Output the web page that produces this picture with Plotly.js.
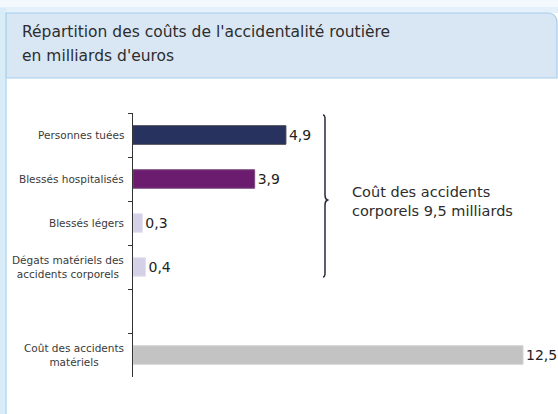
<!DOCTYPE html>
<html>
<head>
<meta charset="utf-8">
<script src="https://cdn.plot.ly/plotly-3.0.1.min.js"></script>
<style>html,body{margin:0;padding:0;background:#fff;}#chart{width:558px;height:414px;}</style>
</head>
<body>
<div id="chart"></div>
<script>
// ---- data ----
var categories = ["Personnes tuées", "Blessés hospitalisés", "Blessés légers", "Dégats matériels des accidents corporels", "Coût des accidents matériels"];
var categoryLabels = ["Personnes tuées", "Blessés hospitalisés", "Blessés légers", "Dégats matériels des<br>accidents corporels", "Coût des accidents<br>matériels"];
var values = [4.9, 3.9, 0.3, 0.4, 12.5];
var axisOrder = ["Personnes tuées", "Blessés hospitalisés", "Blessés légers", "Dégats matériels des accidents corporels", " ", "Coût des accidents matériels"];
var titleLines = ["Répartition des coûts de l'accidentalité routière", "en milliards d'euros"];
var bracketNote = "Coût des accidents<br>corporels 9,5 milliards";

// ---- styles ----
var barColors = ["#27325f", "#6c1c6f", "#d4d0e7", "#d4d0e7", "#c3c3c3"];
var barLines = ["#3a3a48", "#7a4a7e", "#e2e0ee", "#e2e0ee", "#d2d2d2"];
var FONT = "DejaVu Sans, Liberation Sans, Arial, sans-serif";

var W = 558, H = 414, L = 133, R = 2, T = 113, B = 37;
var pw = W - L - R, ph = H - T - B;
function PX(x) { return (x - L) / pw; }
function PY(y) { return (H - B - y) / ph; }
function P(x, y) { return PX(x).toFixed(5) + "," + PY(y).toFixed(5); }

var trace = {
  type: "bar",
  orientation: "h",
  y: categories,
  x: values,
  width: 0.42,
  marker: { color: barColors, line: { color: barLines, width: 1 } },
  text: values.map(function (v) { return String(v).replace(".", ","); }),
  textposition: "outside",
  textfont: { family: FONT, size: 14, color: "#222" },
  constraintext: "none",
  cliponaxis: false,
  hoverinfo: "none"
};

var annotations = [];
categoryLabels.forEach(function (lab, i) {
  annotations.push({
    xref: "paper", yref: "y", x: PX(126), y: axisOrder.indexOf(categories[i]),
    xanchor: "right", yanchor: "middle", align: "center", showarrow: false,
    text: lab, font: { family: FONT, size: 10.5, color: "#3a3a3a" }
  });
});
annotations.push({
  xref: "paper", yref: "paper", x: PX(20), y: PY(32), xanchor: "left", yanchor: "middle",
  showarrow: false, text: titleLines[0], font: { family: FONT, size: 15.5, color: "#2d2d2d" }
});
annotations.push({
  xref: "paper", yref: "paper", x: PX(20), y: PY(56), xanchor: "left", yanchor: "middle",
  showarrow: false, text: titleLines[1], font: { family: FONT, size: 15.5, color: "#2d2d2d" }
});
annotations.push({
  xref: "paper", yref: "paper", x: PX(350), y: PY(201.5), xanchor: "left", yanchor: "middle",
  align: "left", showarrow: false, text: bracketNote, font: { family: FONT, size: 14.5, color: "#2d2d2d" }
});

var shapes = [
  // top glow
  { type: "rect", xref: "paper", yref: "paper", x0: PX(0), x1: PX(558), y0: PY(0), y1: PY(7), fillcolor: "#f4f9fd", line: { width: 0 }, layer: "below" },
  { type: "rect", xref: "paper", yref: "paper", x0: PX(0), x1: PX(558), y0: PY(7), y1: PY(13), fillcolor: "#e4f0fa", line: { width: 0 }, layer: "below" },
  // left glow
  { type: "rect", xref: "paper", yref: "paper", x0: PX(0), x1: PX(6), y0: PY(8), y1: PY(414), fillcolor: "#d9edf9", line: { width: 0 }, layer: "below" },
  // title box
  { type: "path", xref: "paper", yref: "paper", layer: "below",
    path: "M" + P(6, 13) + " L" + P(547, 13) + " Q" + P(557, 13) + " " + P(557, 23) + " L" + P(557, 78) + " L" + P(6, 78) + " Z",
    fillcolor: "#d9e7f5", line: { color: "#a6cdeb", width: 1.2 } },
  // left border below box
  { type: "line", xref: "paper", yref: "paper", x0: PX(6), x1: PX(6), y0: PY(78), y1: PY(414), line: { color: "#b5daf2", width: 1.5 }, layer: "below" },
  // brace
  { type: "path", xref: "paper", yref: "paper",
    path: "M" + P(323, 115) + " Q" + P(325, 115) + " " + P(325, 119) + " L" + P(325, 195) + " Q" + P(325, 199) + " " + P(327.5, 200) +
          " Q" + P(325, 201) + " " + P(325, 205) + " L" + P(325, 273) + " Q" + P(325, 277) + " " + P(323, 277),
    line: { color: "#2a2a3c", width: 1.5 } }
];

var layout = {
  width: W, height: H,
  margin: { l: L, r: R, t: T, b: B, pad: 0 },
  paper_bgcolor: "#ffffff", plot_bgcolor: "rgba(0,0,0,0)",
  showlegend: false,
  font: { family: FONT },
  xaxis: { visible: false, range: [0, pw / 31.2], fixedrange: true },
  yaxis: {
    type: "category", categoryorder: "array", categoryarray: axisOrder,
    range: [axisOrder.length - 0.5, -0.5],
    showticklabels: false, showgrid: false, zeroline: false,
    showline: true, linecolor: "#333", linewidth: 1,
    ticks: "outside", tickson: "boundaries", ticklen: 4, tickcolor: "#333", tickwidth: 1
  },
  annotations: annotations,
  shapes: shapes
};

Plotly.newPlot("chart", [trace], layout, { displayModeBar: false, staticPlot: true });
</script>
</body>
</html>
